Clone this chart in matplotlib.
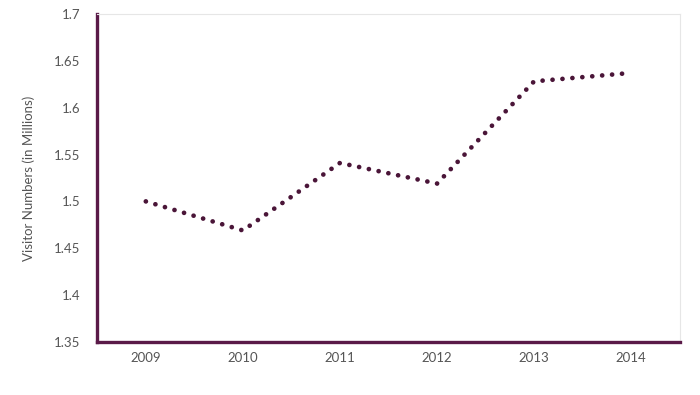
import matplotlib
matplotlib.use("Agg")
import matplotlib.pyplot as plt

years = ["2009", "2010", "2011", "2012", "2013", "2014"]
visitors = [1.500, 1.469, 1.541, 1.519, 1.628, 1.637]
yticks = [1.35, 1.4, 1.45, 1.5, 1.55, 1.6, 1.65, 1.7]
ytick_labels = ["1.35", "1.4", "1.45", "1.5", "1.55", "1.6", "1.65", "1.7"]

plt.rcParams['font.family'] = ['Lato', 'DejaVu Sans']

fig = plt.figure(figsize=(7.0, 3.95), dpi=100)
ax = fig.add_axes([0.139, 0.134, 0.832, 0.831])

color = "#4a1538"
x = list(range(len(years)))
ax.plot(x, visitors, color=color, linewidth=3.4, linestyle=(0, (0.01, 2.1)),
        dash_capstyle='round', solid_capstyle='round')

ax.set_xlim(-0.5, 5.5)
ax.set_ylim(1.35, 1.7)
ax.set_xticks(x)
ax.set_xticklabels(years)
ax.set_yticks(yticks)
ax.set_yticklabels(ytick_labels)
ax.tick_params(axis='both', length=0, labelsize=9.5, labelcolor="#555555")
ax.tick_params(axis='y', pad=12)
ax.tick_params(axis='x', pad=7)

for s in ['left', 'bottom']:
    ax.spines[s].set_color("#5a1a48")
    ax.spines[s].set_linewidth(2.4)
for s in ['top', 'right']:
    ax.spines[s].set_color("#e6e6e6")
    ax.spines[s].set_linewidth(0.8)

ax.set_ylabel("Visitor Numbers (in Millions)", fontsize=9.5, color="#555555",
              labelpad=14)

fig.savefig("out.png", dpi=100, facecolor="white")
